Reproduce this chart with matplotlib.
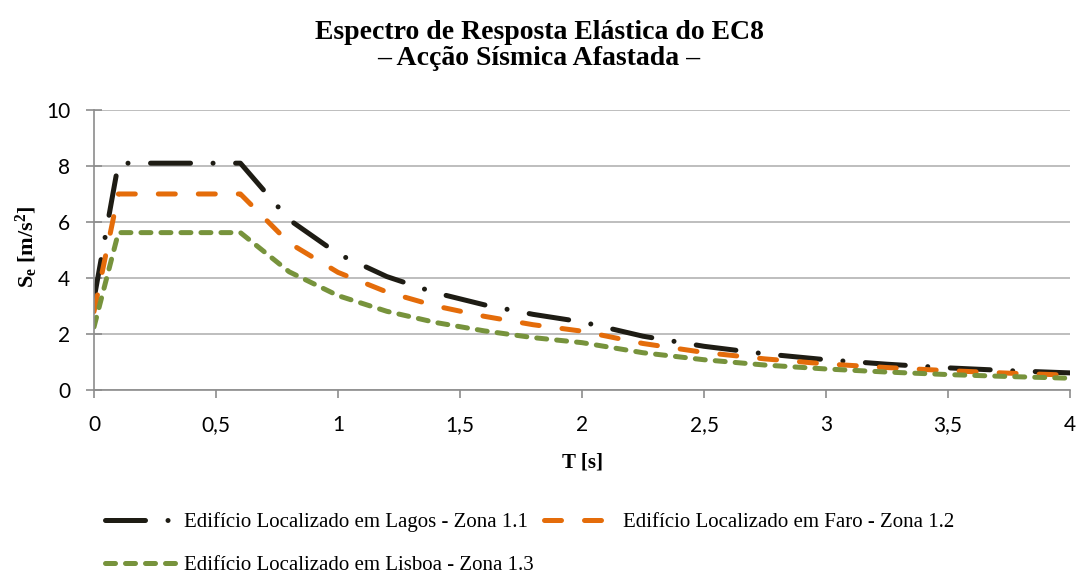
import matplotlib.pyplot as plt
from matplotlib.ticker import FuncFormatter

plt.rcParams['mathtext.fontset'] = 'custom'
plt.rcParams['mathtext.rm'] = 'Liberation Serif:bold'
plt.rcParams['mathtext.it'] = 'Liberation Serif:bold'
plt.rcParams['mathtext.bf'] = 'Liberation Serif:bold'

# periodo T [s]
T = [0, 0.1, 0.6, 0.8, 1.0, 1.2, 1.4, 1.6, 1.8, 2.0, 2.25, 2.5, 2.75, 3.0, 3.25, 3.5, 3.75, 4.0]
# Se [m/s2]
lagos = [3.25, 8.1, 8.1, 6.08, 4.86, 4.05, 3.47, 3.04, 2.7, 2.43, 1.92, 1.56, 1.29, 1.08, 0.92, 0.79, 0.69, 0.61]
faro = [2.8, 7.0, 7.0, 5.25, 4.2, 3.5, 3.0, 2.63, 2.33, 2.1, 1.66, 1.34, 1.11, 0.93, 0.8, 0.69, 0.6, 0.53]
lisboa = [2.25, 5.62, 5.62, 4.22, 3.37, 2.81, 2.41, 2.11, 1.87, 1.69, 1.33, 1.08, 0.89, 0.75, 0.64, 0.55, 0.48, 0.42]

labels = ["Edifício Localizado em Lagos - Zona 1.1",
          "Edifício Localizado em Faro - Zona 1.2",
          "Edifício Localizado em Lisboa - Zona 1.3"]

fig = plt.figure(figsize=(10.78, 5.74), dpi=100)
ax = fig.add_axes([0.0872, 0.3206, 0.9054, 0.4878])

lw = 3.6
l1, = ax.plot(T, lagos, color='#1e1c14', lw=lw, dashes=(8, 4.5, 0.01, 4.5), dash_capstyle='round', label=labels[0])
l2, = ax.plot(T, faro, color='#e46c0a', lw=lw, dashes=(3.4, 4.6), dash_capstyle='round', label=labels[1])
l3, = ax.plot(T, lisboa, color='#77933c', lw=lw, dashes=(2, 2), dash_capstyle='round', label=labels[2])

ax.set_xlim(0, 4)
ax.set_ylim(0, 10)
ax.set_xticks([0, 0.5, 1, 1.5, 2, 2.5, 3, 3.5, 4])
ax.set_yticks([0, 2, 4, 6, 8, 10])
ax.xaxis.set_major_formatter(FuncFormatter(lambda v, p: ('%g' % v).replace('.', ',')))
ax.grid(axis='y', color='#b3b3b3', lw=1.2)
ax.set_axisbelow(True)
for s in ['top', 'right']:
    ax.spines[s].set_visible(False)
for s in ['left', 'bottom']:
    ax.spines[s].set_color('#8c8c8c')
    ax.spines[s].set_linewidth(1.2)
ax.tick_params(axis='y', direction='inout', length=12, color='#8c8c8c', width=1.2, labelsize=15, pad=11)
ax.tick_params(axis='x', direction='out', length=6, color='#8c8c8c', width=1.2, labelsize=15, pad=12)
for t in ax.get_xticklabels() + ax.get_yticklabels():
    t.set_fontfamily('Lato')

ax.set_xlabel('T [s]', fontfamily='Liberation Serif', fontweight='bold', fontsize=15)
ax.xaxis.set_label_coords(0.5, -0.225)
ax.set_ylabel(r'S$_\mathrm{e}$ [m/s$^\mathrm{2}$]', fontfamily='Liberation Serif', fontweight='bold', fontsize=16)
ax.yaxis.set_label_coords(-0.055, 0.51)

fig.text(0.5, 0.92, 'Espectro de Resposta Elástica do EC8\n– Acção Sísmica Afastada –',
         ha='center', va='center', fontfamily='Liberation Serif', fontweight='bold', fontsize=20, linespacing=1.05)

fig.legend([l1, l3, l2], [labels[0], labels[2], labels[1]], loc='upper left', bbox_to_anchor=(0.0974, 0.107),
           ncol=2, frameon=False, borderpad=0, borderaxespad=0,
           prop={'family': 'Liberation Serif', 'size': 15}, handlelength=3.5, columnspacing=0.5,
           labelspacing=1.12, handletextpad=0.3)

fig.savefig('out.png', dpi=100)
